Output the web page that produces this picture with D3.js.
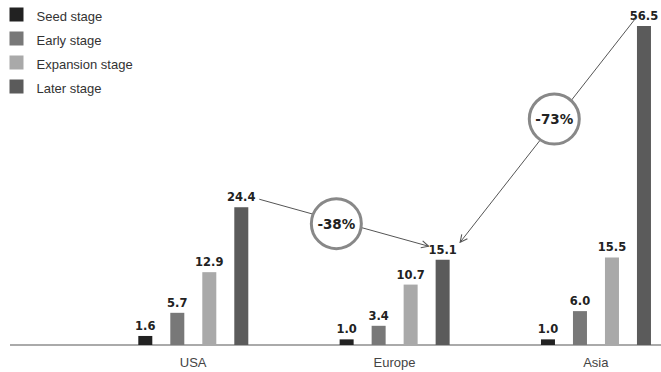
<!DOCTYPE html>
<html>
<head>
<meta charset="utf-8">
<script src="https://cdn.jsdelivr.net/npm/d3@7"></script>
<style>
  html, body { margin: 0; padding: 0; background: #fff; }
  svg { display: block; }
</style>
</head>
<body>
<svg id="chart" width="661" height="372"></svg>
<script>
const regions = ["USA", "Europe", "Asia"];
const stages = ["Seed stage", "Early stage", "Expansion stage", "Later stage"];
const seedValues = [1.6, 1.0, 1.0];
const earlyValues = [5.7, 3.4, 6.0];
const expansionValues = [12.9, 10.7, 15.5];
const laterValues = [24.4, 15.1, 56.5];
const valueLabels = [["1.6","5.7","12.9","24.4"],["1.0","3.4","10.7","15.1"],["1.0","6.0","15.5","56.5"]];
const changeLabels = ["-38%", "-73%"];
const stageColors = ["#222222", "#787878", "#a9a9a9", "#5b5b5b"];

const seriesValues = [seedValues, earlyValues, expansionValues, laterValues];

const svg = d3.select("#chart");
const W = 661, H = 372;
const baseY = 345;

const x0 = d3.scaleBand().domain(regions).range([92, 696]).paddingInner(0).paddingOuter(0);
const x1 = d3.scaleBand().domain(stages).range([46.3, 156.3]).paddingInner(0.5625).paddingOuter(0);
const y = d3.scaleLinear().domain([0, 56.5]).range([baseY, 26]);

const defs = svg.append("defs");
defs.append("marker")
  .attr("id", "arrow")
  .attr("viewBox", "0 0 10 10")
  .attr("refX", 9).attr("refY", 5)
  .attr("markerWidth", 9).attr("markerHeight", 9)
  .attr("markerUnits", "userSpaceOnUse")
  .attr("orient", "auto")
  .append("path")
  .attr("d", "M1,1 L9,5 L1,9")
  .attr("fill", "none")
  .attr("stroke", "#555")
  .attr("stroke-width", 1.2);

// Legend
const legend = svg.append("g").attr("class", "legend");
stages.forEach((s, i) => {
  const g = legend.append("g").attr("transform", `translate(9.5, ${7.5 + i * 24})`);
  g.append("rect").attr("width", 14).attr("height", 14).attr("fill", stageColors[i]);
  g.append("text").attr("x", 27).attr("y", 13)
    .attr("font-family", "Liberation Sans, Arial, sans-serif")
    .attr("font-size", 13).attr("fill", "#333").text(s);
});

// Axis baseline
svg.append("line")
  .attr("x1", 10).attr("x2", W)
  .attr("y1", baseY).attr("y2", baseY)
  .attr("stroke", "#aaa").attr("stroke-width", 2);

// Bars
const groups = svg.selectAll("g.region").data(regions).enter().append("g")
  .attr("class", "region")
  .attr("transform", d => `translate(${x0(d)},0)`);

groups.each(function(region, ri) {
  const g = d3.select(this);
  stages.forEach((s, si) => {
    const v = seriesValues[si][ri];
    g.append("rect")
      .attr("x", x1(s)).attr("width", x1.bandwidth())
      .attr("y", y(v)).attr("height", baseY - y(v))
      .attr("fill", stageColors[si]);
    g.append("text")
      .attr("x", x1(s) + x1.bandwidth() / 2)
      .attr("y", y(v) - 6)
      .attr("text-anchor", "middle")
      .attr("font-family", "DejaVu Sans, sans-serif")
      .attr("font-weight", "bold")
      .attr("font-size", 11.5).attr("fill", "#222")
      .text(valueLabels[ri][si]);
  });
  g.append("text")
    .attr("x", x0.bandwidth() / 2 + 0.5)
    .attr("y", 367)
    .attr("text-anchor", "middle")
    .attr("font-family", "Liberation Sans, Arial, sans-serif")
    .attr("font-size", 13).attr("fill", "#444")
    .text(region);
});

// Annotations
const later = stages[3];
const cx = (r) => x0(r) + x1(later) + x1.bandwidth() / 2;
const usaTop = y(laterValues[0]), eurTop = y(laterValues[1]), asiaTop = y(laterValues[2]);

const arrows = [
  { x1: cx("USA") + 18, y1: usaTop - 8, x2: cx("Europe") - 14, y2: eurTop - 13.5, t: 0.455, dy: 3, dx: 0 },
  { x1: cx("Asia") - 8.5, y1: asiaTop - 7.5, x2: cx("Europe") + 17.5, y2: eurTop - 17.5, t: 0.463, dy: -3, dx: 0 }
];

arrows.forEach((a, i) => {
  svg.append("line")
    .attr("x1", a.x1).attr("y1", a.y1).attr("x2", a.x2).attr("y2", a.y2)
    .attr("stroke", "#555").attr("stroke-width", 1)
    .attr("marker-end", "url(#arrow)");
  const ccx = a.x1 + (a.x2 - a.x1) * a.t + a.dx;
  const ccy = a.y1 + (a.y2 - a.y1) * a.t + a.dy;
  svg.append("circle")
    .attr("cx", ccx).attr("cy", ccy).attr("r", 25)
    .attr("fill", "#fff").attr("stroke", "#888").attr("stroke-width", 3);
  svg.append("text")
    .attr("x", ccx).attr("y", ccy + 5)
    .attr("text-anchor", "middle")
    .attr("font-family", "DejaVu Sans, sans-serif")
    .attr("font-weight", "bold")
    .attr("font-size", 13.5).attr("fill", "#222")
    .text(changeLabels[i]);
});
</script>
</body>
</html>
